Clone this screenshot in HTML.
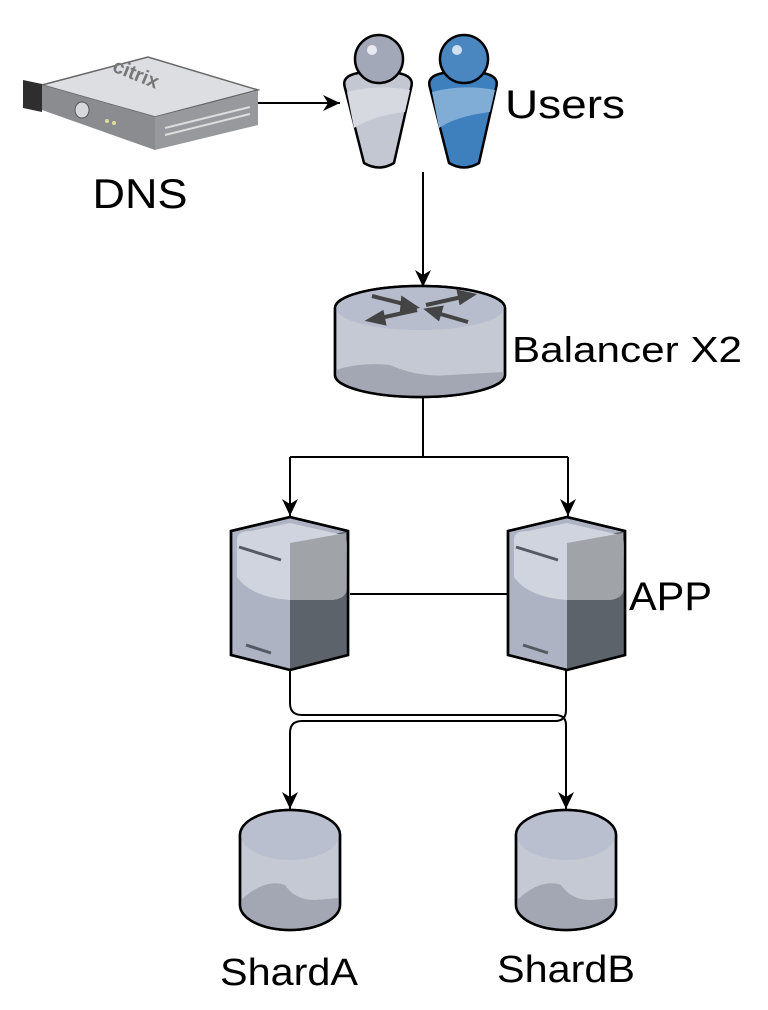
<!DOCTYPE html>
<html><head><meta charset="utf-8"><style>html,body{margin:0;padding:0;background:#fff}svg{display:block}text{font-family:"Liberation Sans",Arial,sans-serif;fill:#000}</style></head>
<body>
<svg width="768" height="1010" viewBox="0 0 768 1010" xmlns="http://www.w3.org/2000/svg">
<defs>
<marker id="ar" markerWidth="20" markerHeight="20" refX="17" refY="8" orient="auto" markerUnits="userSpaceOnUse">
<path d="M0,0 L17,8 L0,16 L5,8 z" fill="#000"/></marker>
<g id="srv">
<path d="M0,14 L59,0 L117,14 L117,138 L59,153 L0,138 z" fill="#adb3c3" stroke="#000" stroke-width="2.5"/>
<path d="M59,26 L117,14 L117,138 L59,153 z" fill="#5d636b"/>
<path d="M6,22 Q6,14 20,14 L59,6 L112,18 Q117,20 116,40 L116,70 Q116,82 100,83 L59,83 Q20,80 6,60 z" fill="#d0d4de"/>
<path d="M59,26 L115,16 L116,70 Q116,82 100,83 L59,83 z" fill="#a0a3a8"/>
<path d="M0,14 L59,0 L117,14 L117,138 L59,153 L0,138 z" fill="none" stroke="#000" stroke-width="2.5"/>
<line x1="8" y1="30" x2="50" y2="43" stroke="#555a62" stroke-width="3"/>
<line x1="15" y1="128" x2="40" y2="136" stroke="#555a62" stroke-width="3"/>
</g>
<g id="cyl">
<path d="M0,25 A50,25 0 0 1 100,25 L100,95 A50,25 0 0 1 0,95 z" fill="#c5c9d3" stroke="#000" stroke-width="2.5"/>
<path d="M1,25 A49,25 0 0 0 99,25 A49,24 0 0 0 1,25z" fill="#b9bfcf"/>
<path d="M1,90 Q25,68 45,75 Q55,90 75,90 L99,88 L99,95 A49,25 0 0 1 1,95 z" fill="#a3a7b3"/>
<path d="M0,25 A50,25 0 0 1 100,25 L100,95 A50,25 0 0 1 0,95 z" fill="none" stroke="#000" stroke-width="2.5"/>
</g>
</defs>

<path d="M42,85 L148,57 L258,90 L155,117 z" fill="#dcdee2" stroke="#666" stroke-width="1.5"/>
<path d="M42,85 L155,117 L155,150 L42,110 z" fill="#8a8c90"/>
<path d="M155,117 L258,91 L258,125 L155,150 z" fill="#97999c"/>
<path d="M23,80 L42,84 L42,112 L23,108 z" fill="#2e2e2e"/>
<ellipse cx="82" cy="110" rx="7" ry="8" fill="#d6d8db" stroke="#555"/>
<circle cx="107" cy="121" r="2" fill="#dd9"/><circle cx="114" cy="123" r="2" fill="#dd9"/>
<line x1="165" y1="128" x2="250" y2="107" stroke="#ddd" stroke-width="2"/>
<line x1="165" y1="135" x2="250" y2="114" stroke="#ddd" stroke-width="2"/>
<text x="112" y="82" font-size="20" font-weight="bold" style="fill:#777" transform="rotate(22 140 75)">citrix</text>
<text x="140" y="208" font-size="42" text-anchor="middle" textLength="95" lengthAdjust="spacingAndGlyphs">DNS</text>

<g stroke="#000" stroke-width="2.5">
<path d="M345,88 Q341,76 358,73 L398,73 Q415,76 411,88 L394,163 Q379,172 364,163 z" fill="#c3c7d1"/>
<circle cx="379" cy="59" r="24" fill="#a2a8b8"/>
<path d="M430,88 Q426,76 443,73 L483,73 Q500,76 496,88 L479,163 Q464,172 449,163 z" fill="#3e7fbd"/>
<circle cx="464" cy="59" r="24" fill="#4a86c0"/>
</g>
<path d="M347,92 Q378,84 410,90 L405,112 Q372,116 354,128 z" fill="#d6d9e0"/>
<path d="M432,92 Q463,84 495,90 L490,112 Q457,116 439,128 z" fill="#7fadd6"/>
<circle cx="372" cy="50" r="5" fill="#e8eaf0"/><circle cx="457" cy="50" r="5" fill="#cfe0f0"/>
<text x="505" y="118" font-size="40" textLength="120" lengthAdjust="spacingAndGlyphs">Users</text>

<line x1="258" y1="103" x2="340" y2="103" stroke="#000" stroke-width="2" marker-end="url(#ar)"/>
<line x1="423" y1="172" x2="423" y2="287" stroke="#000" stroke-width="2" marker-end="url(#ar)"/>

<path d="M335,308 A85,22 0 0 1 505,308 L505,375 A85,22 0 0 1 335,375 z" fill="#c5c9d3" stroke="#000" stroke-width="2.5"/>
<path d="M336,308 A84,22 0 0 0 504,308 A84,21 0 0 0 336,308z" fill="#b7bdcc"/>
<path d="M336,370 Q360,362 390,365 Q420,378 450,375 L504,372 L504,375 A84,22 0 0 1 336,375 z" fill="#a3a7b3"/>
<path d="M335,308 A85,22 0 0 1 505,308 L505,375 A85,22 0 0 1 335,375 z" fill="none" stroke="#000" stroke-width="2.5"/>
<g stroke="#444" stroke-width="4" fill="#444">
<line x1="372" y1="296" x2="408" y2="305"/><path d="M415,307 L403,299 L402,310z"/>
<line x1="426" y1="305" x2="462" y2="297"/><path d="M472,295 L459,292 L461,302z"/>
<line x1="417" y1="310" x2="380" y2="318"/><path d="M370,320 L382,313 L384,323z"/>
<line x1="468" y1="322" x2="437" y2="313"/><path d="M428,310 L441,308 L438,318z"/>
</g>
<text x="512" y="362" font-size="36" textLength="230" lengthAdjust="spacingAndGlyphs">Balancer X2</text>

<path d="M423,397 L423,457 M290,457 L568,457" fill="none" stroke="#000" stroke-width="2"/>
<line x1="290" y1="457" x2="290" y2="516" stroke="#000" stroke-width="2" marker-end="url(#ar)"/>
<line x1="568" y1="457" x2="568" y2="516" stroke="#000" stroke-width="2" marker-end="url(#ar)"/>

<use href="#srv" x="231" y="517"/>
<use href="#srv" x="508" y="517"/>
<line x1="350" y1="594" x2="508" y2="594" stroke="#000" stroke-width="2"/>
<text x="629" y="610" font-size="40" textLength="83" lengthAdjust="spacingAndGlyphs">APP</text>

<path d="M290,670 L290,703 Q290,715 302,715 L555,715 Q566,715 566,725 L566,809" fill="none" stroke="#000" stroke-width="2" marker-end="url(#ar)"/>
<path d="M566,670 L566,710 Q566,721 555,721 L302,721 Q290,721 290,733 L290,809" fill="none" stroke="#000" stroke-width="2" marker-end="url(#ar)"/>

<use href="#cyl" x="240" y="810"/>
<use href="#cyl" x="516" y="810"/>
<text x="220" y="985" font-size="38" textLength="138" lengthAdjust="spacingAndGlyphs">ShardA</text>
<text x="497" y="982" font-size="38" textLength="138" lengthAdjust="spacingAndGlyphs">ShardB</text>
</svg>
</body></html>
